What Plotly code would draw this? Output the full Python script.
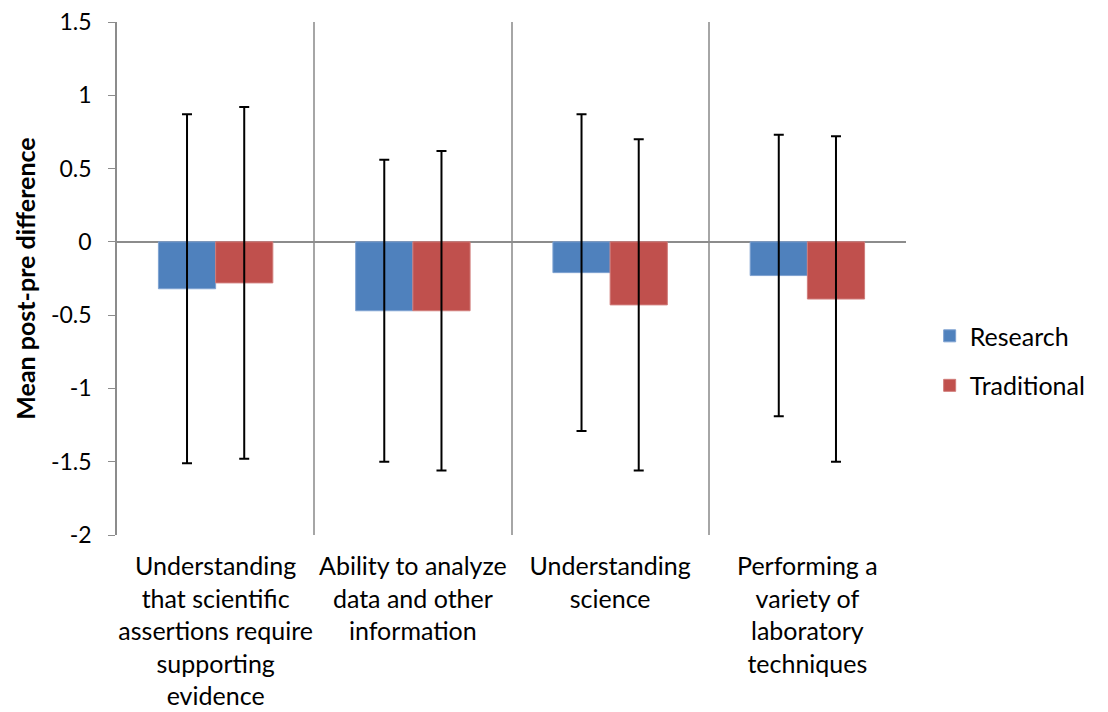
import plotly.graph_objects as go

categories = [
    "Understanding<br>that scientific<br>assertions require<br>supporting<br>evidence",
    "Ability to analyze<br>data and other<br>information",
    "Understanding<br>science",
    "Performing a<br>variety of<br>laboratory<br>techniques",
]
research_mean = [-0.32, -0.47, -0.21, -0.23]
research_err = [1.19, 1.03, 1.08, 0.96]
traditional_mean = [-0.28, -0.47, -0.43, -0.39]
traditional_err = [1.20, 1.09, 1.13, 1.11]

y_ticks = [1.5, 1, 0.5, 0, -0.5, -1, -1.5, -2]
y_labels = ["1.5", "1", "0.5", "0", "-0.5", "-1", "-1.5", "-2"]

font_name = "Lato, Open Sans, sans-serif"

fig = go.Figure()

fig.add_trace(go.Bar(
    x=categories,
    y=research_mean,
    name="Research",
    legendgroup="r",
    marker=dict(color="#4F81BD", line=dict(color="#7EA2D1", width=1)),
    error_y=dict(type="data", array=research_err, color="black", thickness=2, width=5),
))
fig.add_trace(go.Bar(
    x=categories,
    y=traditional_mean,
    name="Traditional",
    legendgroup="t",
    marker=dict(color="#C0504D", line=dict(color="#D07C7A", width=1)),
    error_y=dict(type="data", array=traditional_err, color="black", thickness=2, width=5),
))

# page body has an 8px margin, so margins are shifted to compensate
fig.update_layout(
    width=1108,
    height=712,
    margin=dict(l=109, r=210, t=14, b=185),
    plot_bgcolor="white",
    paper_bgcolor="white",
    barmode="group",
    bargap=0.42,
    bargroupgap=0,
    font=dict(family=font_name, size=25, color="black"),
    legend=dict(
        x=1.03, y=0.34, xanchor="left", yanchor="middle",
        tracegroupgap=14,
        font=dict(size=25),
    ),
    xaxis=dict(
        automargin=False,
        tickson="boundaries",
        showgrid=True,
        gridcolor="#A6A6A6",
        gridwidth=1.5,
        ticks="",
        showline=False,
        tickangle=0,
        ticklabelstandoff=14,
        tickfont=dict(size=25),
    ),
    yaxis=dict(
        automargin=False,
        range=[-2, 1.5],
        tickvals=y_ticks,
        ticktext=y_labels,
        showgrid=False,
        zeroline=True,
        zerolinecolor="#8C8C8C",
        zerolinewidth=2,
        showline=True,
        linecolor="#8C8C8C",
        linewidth=1.5,
        ticks="outside",
        ticklen=7,
        tickcolor="#8C8C8C",
        ticklabelstandoff=12,
        ticklabeloverflow="allow",
        tickfont=dict(size=23),
        title=dict(text="<b>Mean post-pre difference</b>", font=dict(size=25), standoff=8),
    ),
)

fig.write_html("out.html")
